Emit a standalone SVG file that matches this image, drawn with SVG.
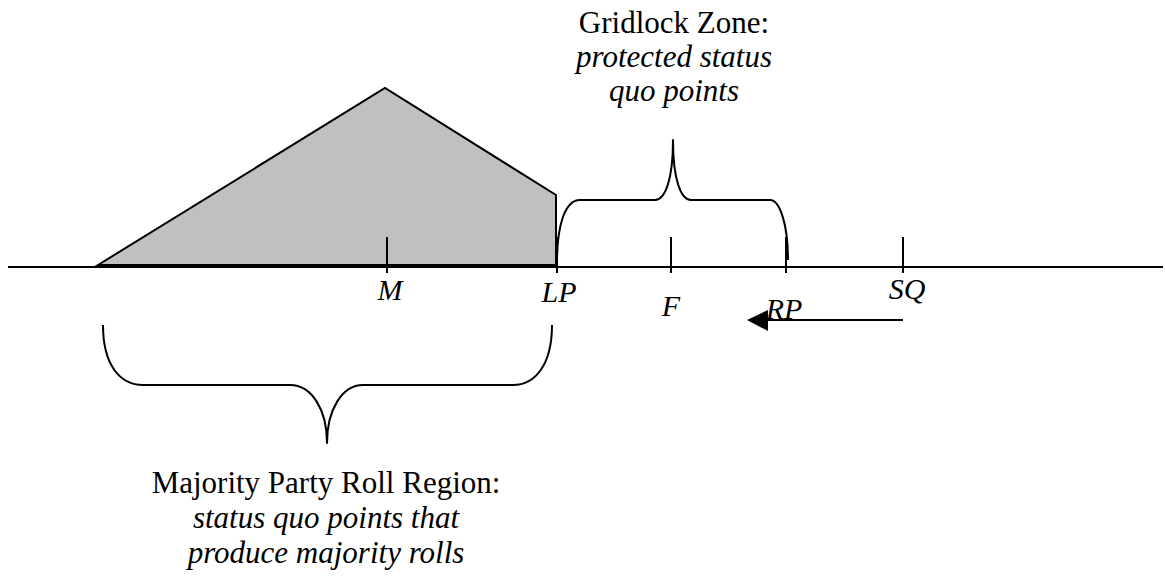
<svg xmlns="http://www.w3.org/2000/svg" width="1165" height="578" viewBox="0 0 1165 578">
<style>
.ln{stroke:#000;stroke-width:2;fill:none}
.br{stroke:#000;stroke-width:2;fill:none;stroke-linejoin:round}
.lab{font-family:"Liberation Serif","Times New Roman",serif;font-size:30px;font-style:italic;fill:#000;text-anchor:middle}
.ttl{font-family:"Liberation Serif","Times New Roman",serif;font-size:31px;fill:#000;text-anchor:middle}
.it{font-style:italic}
</style>
<rect width="1165" height="578" fill="#fff"/>
<g id="region">
<polygon points="98,265 385,88 556,195 556,265" fill="#c0c0c0" stroke="#000" stroke-width="2" stroke-linejoin="miter"/>
</g>
<g id="axis">
<line class="ln" x1="8" y1="267" x2="1163" y2="267"/>
<line class="ln" x1="98" y1="266" x2="557" y2="266" stroke-width="3"/>
</g>
<g id="ticks">
<line class="ln" x1="387" y1="237" x2="387" y2="273"/>
<line class="ln" x1="557" y1="237" x2="557" y2="273"/>
<line class="ln" x1="671" y1="237" x2="671" y2="273"/>
<line class="ln" x1="786" y1="237" x2="786" y2="273"/>
<line class="ln" x1="903" y1="237" x2="903" y2="273"/>
</g>
<g id="labels">
<text class="lab" x="390" y="300">M</text>
<text class="lab" x="559" y="302">LP</text>
<text class="lab" x="671" y="316">F</text>
<text class="lab" x="784" y="319">RP</text>
<text class="lab" x="907" y="299">SQ</text>
</g>
<g id="gridlock-brace">
<path class="br" d="M557,263 C557,225 565,200 580,200 L655,200 C665,200 673,180 673,140 C673,180 681,200 691,200 L770,200 C780,200 788,225 788,260"/>
</g>
<g id="roll-brace">
<path class="br" d="M103,325 C103,365 120,385 143,385 L290,385 C312,385 327,410 327,443 C327,410 342,385 363,385 L513,385 C535,385 552,365 552,325"/>
</g>
<g id="connectors">
<line class="ln" x1="903" y1="320" x2="766" y2="320"/>
<polygon points="747,320 768,310 768,331" fill="#000"/>
</g>
<g id="gridlock-label">
<text class="ttl" x="674" y="33">Gridlock Zone:</text>
<text class="ttl it" x="674" y="67">protected status</text>
<text class="ttl it" x="674" y="101">quo points</text>
</g>
<g id="roll-label">
<text class="ttl" x="326" y="493">Majority Party Roll Region:</text>
<text class="ttl it" x="326" y="528">status quo points that</text>
<text class="ttl it" x="326" y="563">produce majority rolls</text>
</g>
</svg>
